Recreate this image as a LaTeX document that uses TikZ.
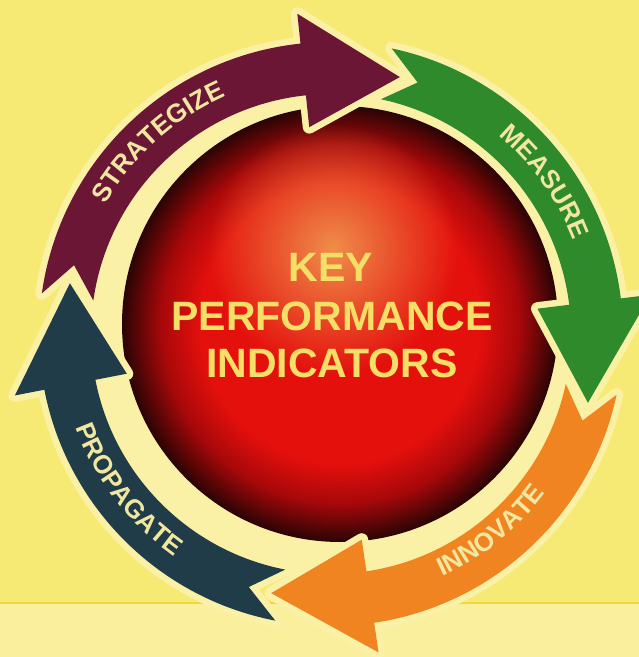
\documentclass[tikz,border=0pt]{standalone}
\usepackage{fontspec}
\setmainfont{Liberation Sans}
\usetikzlibrary{decorations.text,fadings}
\definecolor{bgyellow}{HTML}{F7EA74}
\definecolor{bglow}{HTML}{F9EF9C}
\definecolor{cream}{HTML}{FAF1A6}
\definecolor{linecol}{HTML}{F0D838}
\definecolor{cstrat}{HTML}{6A1634}
\definecolor{cmeas}{HTML}{2F8A2C}
\definecolor{cinnov}{HTML}{EF8420}
\definecolor{cprop}{HTML}{203C48}
\definecolor{arrtxt}{HTML}{F2E7A0}
\definecolor{kpitxt}{HTML}{F5DF66}
\definecolor{sphred}{HTML}{E4100C}
\definecolor{sphmid}{HTML}{A8080A}
\definecolor{sphdark}{HTML}{2A0404}
\definecolor{glowc}{HTML}{F2A455}
\pgfdeclareradialshading{kpisphere}{\pgfpointorigin}{color(0bp)=(sphred); color(16bp)=(sphred); color(20.5bp)=(sphmid); color(25bp)=(sphdark); color(50bp)=(sphdark)}
\tikzfading[name=kpiglow, inner color=transparent!15, outer color=transparent!100]
\newcommand{\kpiarrowfont}{\fontsize{26}{26}\selectfont\bfseries}
% #1 style, #2 tail angle, #3 notch angle, #4 head base angle, #5 tip angle
\newcommand{\kpiarrow}[5]{\path[#1] (#2:292pt) arc[start angle=#2, end angle=#4, radius=292pt] -- (#4:322pt) -- (#5:266pt) -- (#4:208pt) -- (#4:240pt) arc[start angle=#4, end angle=#2, radius=240pt] -- (#3:266pt) -- cycle;}
\tikzset{
  arrowoutline/.style={draw=cream, line width=13pt, line join=round},
  kpilabel/.style={font=\fontsize{41}{41}\selectfont\bfseries, text=kpitxt, inner sep=0pt},
  arclabel/.style={decorate, decoration={text along path, text={|\kpiarrowfont|#1}, text align=center, text color=arrtxt}}
}
\begin{document}
\begin{tikzpicture}[x=1pt,y=1pt]
\useasboundingbox (-331,-323) rectangle (308,334);
\clip (-331,-323) rectangle (308,334);
\fill[bgyellow] (-331,-269) rectangle (308,334);
\fill[bglow] (-331,-323) rectangle (308,-269);
\draw[linecol, line width=2pt] (-331,-269) -- (308,-269);
\fill[cream] (0,0) circle (246pt);
\shade[shading=kpisphere] (9,10) circle (218pt);
\fill[glowc, path fading=kpiglow] (2,85) circle (125pt);
% cream outlines
\kpiarrow{arrowoutline}{172}{165}{96}{75}
\kpiarrow{arrowoutline}{78}{71}{7}{-15}
\kpiarrow{arrowoutline}{-12}{-19}{-81.5}{-103}
\kpiarrow{arrowoutline}{-101}{-108}{-169}{-191}
% arrow bodies
\kpiarrow{fill=cstrat}{172}{165}{96}{75}
\kpiarrow{fill=cmeas}{78}{71}{7}{-15}
\kpiarrow{fill=cinnov}{-12}{-19}{-81.5}{-103}
\kpiarrow{fill=cprop}{-101}{-108}{-169}{-191}
% arrow labels
\path[arclabel=STRATEGIZE] (156:260pt) arc[start angle=156, end angle=108, radius=260pt];
\path[arclabel=MEASURE] (56:260pt) arc[start angle=56, end angle=15, radius=260pt];
\path[arclabel=INNOVATE] (-71:267pt) arc[start angle=-71, end angle=-31, radius=267pt];
\path[arclabel=PROPAGATE] (194:272pt) arc[start angle=194, end angle=241, radius=272pt];
% centre text
\node[kpilabel] (kpikey) at (0,67) {KEY};
\node[kpilabel] (kpiperf) at (1,18) {PERFORMANCE};
\node[kpilabel] (kpiind) at (1,-29) {INDICATORS};
\end{tikzpicture}
\end{document}
